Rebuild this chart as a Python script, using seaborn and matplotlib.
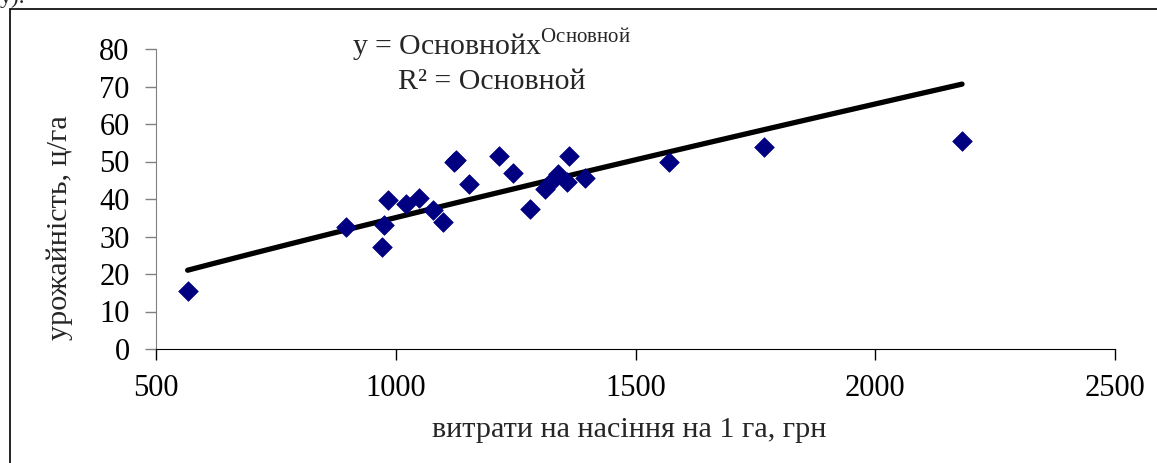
import numpy as np
import pandas as pd
import matplotlib
matplotlib.use("Agg")
import matplotlib.pyplot as plt
import seaborn as sns
from matplotlib.patches import Rectangle

# seed costs per ha (UAH) and yield (c/ha)
seed_cost = [566, 896, 971, 975, 983, 1021, 1048, 1077, 1098, 1122, 1125,
             1152, 1215, 1244, 1279, 1312, 1319, 1338, 1358, 1362, 1394,
             1569, 1767, 2181]
yield_cha = [15.5, 32.6, 27.3, 33.1, 39.7, 38.7, 40.3, 37.1, 33.8, 50.0, 50.3,
             44.0, 51.4, 46.9, 37.4, 42.6, 43.9, 46.6, 44.6, 51.4, 45.6,
             49.8, 54.0, 55.5]

x_ticks = [500, 1000, 1500, 2000, 2500]
y_ticks = [0, 10, 20, 30, 40, 50, 60, 70, 80]

# power trendline y = a * x^b as drawn in the chart
trend_a = 0.0704
trend_b = 0.899

df = pd.DataFrame({"cost": seed_cost, "yield": yield_cha})

sns.set_style("white")
plt.rcParams['font.family'] = ['Liberation Serif', 'DejaVu Serif']

fig = plt.figure(figsize=(11.57, 4.63), dpi=100, facecolor='white')
ax = fig.add_axes([156 / 1157, 1 - 349 / 463, (1115 - 156) / 1157, (349 - 49) / 463])

# trend line over the data range
xs = np.linspace(df["cost"].min(), df["cost"].max(), 100)
ax.plot(xs, trend_a * xs ** trend_b, color='black', linewidth=3.8,
        solid_capstyle='round', zorder=2)

sns.scatterplot(data=df, x="cost", y="yield", marker='D', s=100,
                color='#000080', edgecolor='#000080', linewidth=0.5,
                ax=ax, zorder=3)

ax.set_xlim(500, 2500)
ax.set_ylim(0, 80)
ax.set_xticks(x_ticks)
ax.set_yticks(y_ticks)
ax.tick_params(axis='both', direction='out', length=8, width=1, colors='black',
               labelsize=22, left=True, bottom=True)
ax.tick_params(axis='x', pad=10)
ax.tick_params(axis='y', color='#808080', pad=11)

ax.spines['top'].set_visible(False)
ax.spines['right'].set_visible(False)
ax.spines['left'].set_color('#808080')
ax.spines['bottom'].set_color('black')

ax.set_xlabel("витрати на насіння на 1 га, грн", fontsize=21.7)
ax.set_ylabel("урожайність, ц/га", fontsize=21.7)
ax.xaxis.label.set_va('baseline')
ax.xaxis.set_label_coords(0.493, -0.2933)
ax.yaxis.set_label_coords(-0.0866, 0.403)

# broken Excel trendline label
ax.text(0.350, 0.98, "y = Основнойx$^{\\mathregular{Основной}}$", transform=ax.transAxes,
        fontsize=21.5, ha='center', va='baseline')
ax.text(0.350, 0.8667, "R² = Основной", transform=ax.transAxes,
        fontsize=21.5, ha='center', va='baseline')

# outer chart frame, running off the right and bottom edges
fig.patches.append(Rectangle((10 / 1157, -0.05), 1.2, 1 - 9 / 463 + 0.05,
                             transform=fig.transFigure, fill=False,
                             edgecolor='black', linewidth=1.2))
fig.text(0.0, 1 - 3 / 463, "у).", fontsize=17, ha='left', va='baseline')

fig.savefig("out.png", dpi=100, facecolor='white')
